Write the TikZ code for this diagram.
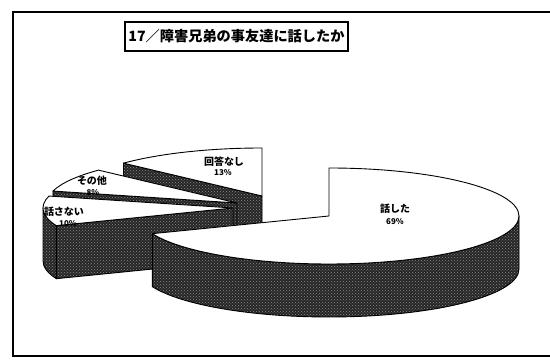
\documentclass[tikz,border=0pt]{standalone}
\usepackage{fontspec}
\newfontfamily\jp{Noto Sans CJK JP}
\usetikzlibrary{patterns,calc}
\begin{document}
\begin{tikzpicture}[x=1pt,y=1pt,
  edge/.style={draw=black, line width=0.9pt, line join=round},
  topface/.style={edge, fill=white},
  sideface/.style={edge, preaction={fill=black!85}, pattern=crosshatch dots, pattern color=black!45},
  lbl/.style={font=\jp\bfseries\fontsize{10}{11}\selectfont, inner sep=0pt},
  pct/.style={font=\jp\bfseries\fontsize{8}{9}\selectfont, inner sep=0pt}]
\useasboundingbox (0,0) rectangle (550,361);
\fill[white] (0,0) rectangle (550,361);
\draw[line width=1.2pt] (553,349) -- (13,349) -- (13,5) -- (553,5);
\node[draw, line width=1.3pt, inner sep=1pt, minimum width=223, minimum height=29,
  font=\jp\bfseries\fontsize{14.2}{17}\selectfont] (title) at (236.5,324.5) {17／障害兄弟の事友達に話したか};
\coordinate (C1) at (329,145);
\coordinate (C2) at (262,165);
\coordinate (C3) at (237,158);
\coordinate (C4) at (233,153);
% 回答なし
\coordinate (B1) at ($(C2)+(90:190 and 48)$);
\coordinate (B2) at ($(C2)+(136.8:190 and 48)$);
\path[sideface] (B2) -- (C2) -- ($(C2)+(0,-53)$) -- ($(B2)+(0,-53)$) -- cycle;
\path[topface] (C2) -- (B1) arc[start angle=90,end angle=136.8,x radius=190,y radius=48] -- cycle;
% その他
\coordinate (D1) at ($(C3)+(136.8:190 and 48)$);
\coordinate (D2) at ($(C3)+(165.6:190 and 48)$);
\path[sideface] (D2) -- (C3) -- ($(C3)+(0,-53)$) -- ($(D2)+(0,-53)$) -- cycle;
\path[topface] (C3) -- (D1) arc[start angle=136.8,end angle=165.6,x radius=190,y radius=48] -- cycle;
% 話さない
\coordinate (E0) at ($(C4)+(180:190 and 48)$);
\coordinate (E1) at ($(C4)+(165.6:190 and 48)$);
\coordinate (E2) at ($(C4)+(201.6:190 and 48)$);
\path[sideface] (E0) arc[start angle=180,end angle=201.6,x radius=190,y radius=48] -- ++(0,-53) arc[start angle=201.6,end angle=180,x radius=190,y radius=48] -- cycle;
\path[sideface] (E2) -- (C4) -- ($(C4)+(0,-53)$) -- ($(E2)+(0,-53)$) -- cycle;
\path[topface] (C4) -- (E1) arc[start angle=165.6,end angle=201.6,x radius=190,y radius=48] -- cycle;
% 話した
\coordinate (F0) at ($(C1)+(90:190 and 48)$);
\coordinate (F1) at ($(C1)+(-158.4:190 and 48)$);
\path[sideface] (F1) arc[start angle=-158.4,end angle=0,x radius=190,y radius=48] -- ++(0,-53) arc[start angle=0,end angle=-158.4,x radius=190,y radius=48] -- cycle;
\path[topface] (C1) -- (F0) arc[start angle=90,end angle=-158.4,x radius=190,y radius=48] -- cycle;
% labels
\node[lbl] (l1) at (224,199) {回答なし};
\node[pct] (p1) at (223,188) {13\%};
\node[lbl] (l2) at (92,180) {その他};
\node[pct] (p2) at (93,168) {8\%};
\node[lbl] (l3) at (64,149) {話さない};
\node[pct] (p3) at (68,137.5) {10\%};
\node[lbl] (l4) at (395,152) {話した};
\node[pct] (p4) at (395,139) {69\%};
\end{tikzpicture}
\end{document}
